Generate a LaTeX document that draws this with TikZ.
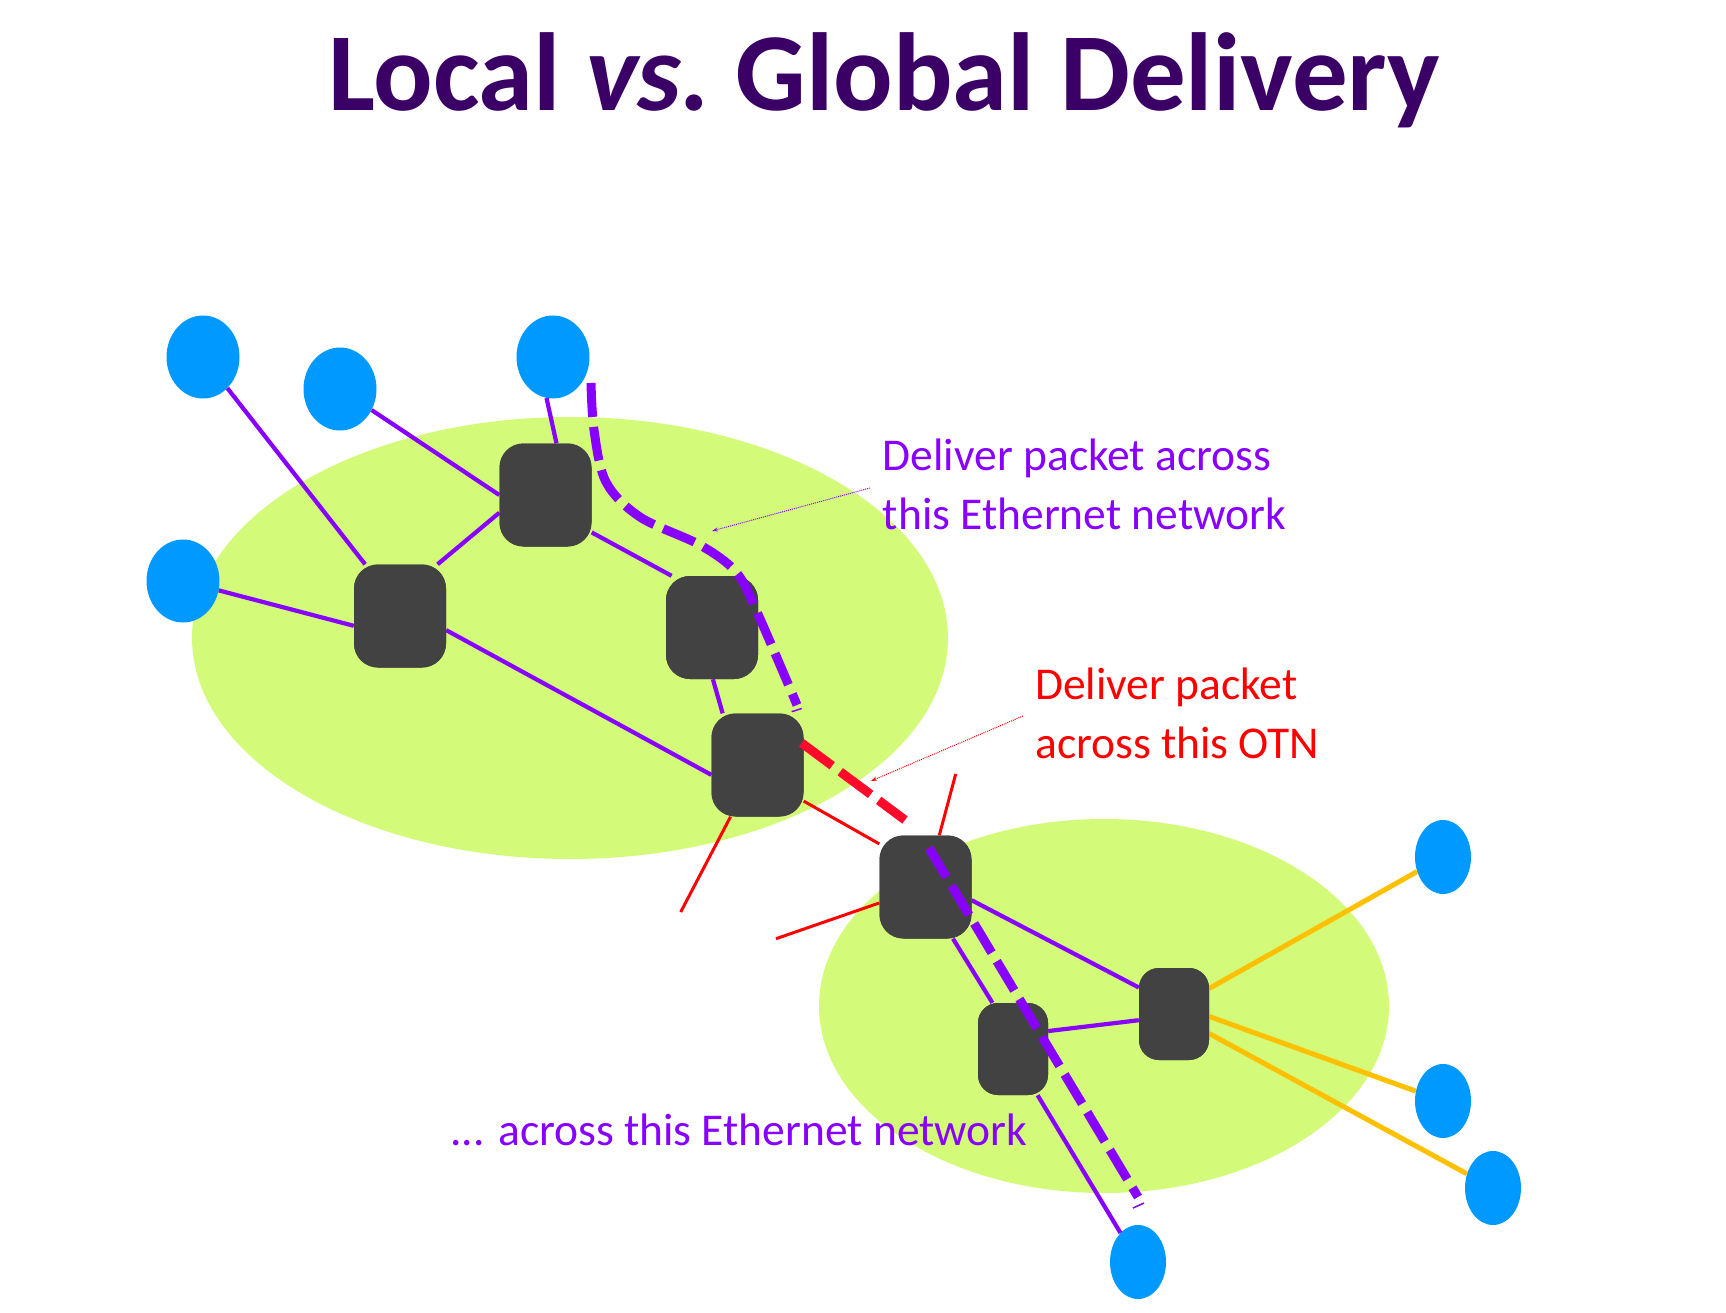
\documentclass[tikz,border=0pt]{standalone}
\usepackage{fontspec}
\setmainfont{Carlito}
\usetikzlibrary{shapes.geometric,arrows.meta}
\definecolor{netgreen}{HTML}{D4FA7A}
\definecolor{hostblue}{HTML}{0099FF}
\definecolor{swgray}{HTML}{424242}
\definecolor{ethpurple}{HTML}{8800FF}
\definecolor{otnred}{HTML}{FF0A2A}
\definecolor{linkyellow}{HTML}{FFC000}
\definecolor{titlepurple}{HTML}{3A0066}
\tikzset{
  region/.style={ellipse, fill=netgreen, inner sep=0pt},
  hostbig/.style={ellipse, fill=hostblue, inner sep=0pt, minimum width=73pt, minimum height=83pt},
  hostsmall/.style={ellipse, fill=hostblue, inner sep=0pt, minimum width=56pt, minimum height=74pt},
  swbig/.style={rectangle, rounded corners=24pt, fill=swgray, inner sep=0pt, minimum width=92pt, minimum height=103pt},
  swsmall/.style={rectangle, rounded corners=20pt, fill=swgray, inner sep=0pt, minimum width=70pt, minimum height=92pt},
  ethlink/.style={draw=ethpurple, line width=4.2pt},
  otnlink/.style={draw=red, line width=3pt},
  yellink/.style={draw=linkyellow, line width=5pt},
  ethroute/.style={draw=ethpurple, line width=9pt, dash pattern=on 34pt off 10pt},
  otnroute/.style={draw=otnred, line width=9pt, dash pattern=on 38pt off 10pt},
  tick/.style={draw=ethpurple, line width=1.5pt},
  callout/.style={line width=1pt, densely dotted, -{Stealth[length=6pt,width=4pt]}},
  lbl/.style={font=\fontsize{45.5pt}{58.5pt}\selectfont, align=left, inner sep=0pt, anchor=base west},
}
\begin{document}
\begin{tikzpicture}[x=1pt,y=-1pt]
\useasboundingbox (0,0) rectangle (1726,1313);
% regions
\node[region, minimum width=756pt, minimum height=442pt] (E1) at (570,638) {};
\node[region, minimum width=570pt, minimum height=374pt] (E2) at (1104,1006) {};
% hosts
\node[hostbig] (H1) at (203,357) {};
\node[hostbig] (H2) at (340,389) {};
\node[hostbig] (H3) at (553,357) {};
\node[hostbig] (H4) at (183,581) {};
\node[hostsmall] (H6) at (1443,857) {};
\node[hostsmall] (H7) at (1443,1101) {};
\node[hostsmall] (H8) at (1493,1188) {};
\node[hostsmall] (H9) at (1138,1262) {};
\coordinate (st1) at (680.7,912);
\coordinate (st2) at (955.7,774);
\coordinate (st3) at (776,938.7);
\path (400,616) coordinate (cS1) (545.5,495) coordinate (cS2) (712,627.5) coordinate (cS3)
      (757.5,765) coordinate (cS4) (925.5,887) coordinate (cS5) (1013,1049) coordinate (cS6)
      (1174,1014) coordinate (cS7);
% switches (named, used for anchors)
\node[swbig] (S1) at (cS1) {};
\node[swbig] (S2) at (cS2) {};
\node[swbig] (S3) at (cS3) {};
\node[swbig] (S4) at (cS4) {};
\node[swbig] (S5) at (cS5) {};
\node[swsmall] (S6) at (cS6) {};
\node[swsmall] (S7) at (cS7) {};
% links
\draw[ethlink] (H1) -- (S1.124);
\draw[ethlink] (H2) -- (S2.west);
\draw[ethlink] (H3.261) -- (S2.78);
\draw[ethlink] (H4) -- (S1.192);
\draw[ethlink] (S1.54) -- (S2.201);
\draw[ethlink] (S1.343) -- (S4.192);
\draw[ethlink] (S2.321) -- (S3.128);
\draw[ethlink] (S3.271) -- (S4.124);
\draw[otnlink] (S4.322) -- (S5.137);
\draw[otnlink] (S4) -- (st1);
\draw[otnlink] (S5) -- (st2);
\draw[otnlink] (S5) -- (st3);
\draw[ethlink] (S5.344) -- (S7.143);
\draw[ethlink] (S5.298) -- (S6.114);
\draw[ethlink] (S6.298) -- (H9);
\draw[ethlink] (S6.27) -- (S7.190);
\draw[yellink] (S7.36) -- (H6);
\draw[yellink] (S7.356) -- (H7);
\draw[yellink] (S7.331) -- (H8);
% switches drawn again above the link ends
\node[swbig] at (cS1) {};
\node[swbig] at (cS2) {};
\node[swbig] at (cS3) {};
\node[swbig] at (cS4) {};
\node[swbig] at (cS5) {};
\node[swsmall] at (cS6) {};
\node[swsmall] at (cS7) {};
% routes
\coordinate (r1a) at (591,383);
\coordinate (r1b) at (797,705);
\draw[ethroute] plot[smooth, tension=0.55] coordinates {(r1a) (594,430) (606,482) (640,517) (700,545) (736,572) (757,612) (r1b)};
\draw[tick] (791.7,711.7) -- (801.7,708.5);
\coordinate (r2a) at (801.7,743);
\coordinate (r2b) at (905,820);
\draw[otnroute] (r2a) -- (r2b);
\coordinate (r3a) at (929,848);
\coordinate (r3b) at (1138,1197);
\draw[ethroute] (r3a) -- (r3b);
\draw[tick] (1133,1208) -- (1144,1203);
% labels (anchor at baseline of last line)
\node[lbl, text=ethpurple] (L1) at (882.7,529) {Deliver packet across\\this Ethernet network};
\node[lbl, text=red] (L2) at (1035,758.3) {Deliver packet\\across this OTN};
\node[lbl, text=ethpurple] (L3) at (450,1145) {... across this Ethernet network};
\coordinate (a1s) at (870,488);
\coordinate (a1e) at (712,531);
\draw[callout, ethpurple] (a1s) -- (a1e);
\coordinate (a2s) at (1023,716);
\coordinate (a2e) at (871,781);
\draw[callout, red] (a2s) -- (a2e);
% title
\node[anchor=base west, inner sep=0pt, text=titlepurple, font=\fontsize{111pt}{120pt}\selectfont\bfseries] (T) at (328,110.7) {Local {\itshape vs.}\kern-9pt{} Global Delivery};
\end{tikzpicture}
\end{document}
